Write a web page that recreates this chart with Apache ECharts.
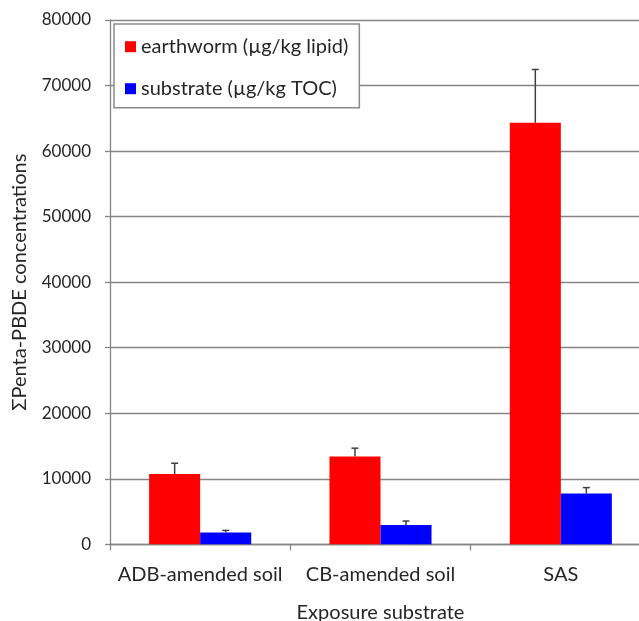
<!DOCTYPE html>
<html>
<head>
<meta charset="utf-8">
<script src="https://cdn.jsdelivr.net/npm/echarts@6/dist/echarts.min.js"></script>
<style>
  html, body { margin: 0; padding: 0; background: #fff; }
  #chart { width: 639px; height: 621px; }
</style>
</head>
<body>
<div id="chart"></div>
<script>
// Exposure substrates on the category axis
const categories = ['ADB-amended soil', 'CB-amended soil', 'SAS'];

// ΣPenta-PBDE means and their upper error (one standard deviation)
const earthworm = [10730, 13390, 64320];
const earthwormErr = [1640, 1280, 8130];
const substrate = [1810, 2940, 7750];
const substrateErr = [310, 610, 900];

// Value axis ticks
const yMin = 0;
const yMax = 80000;
const yStep = 10000;

const FONT = 'Lato';
const TEXT = '#262626';
const GRID_GRAY = '#858585';
const BAR_FRAC = 0.283; // bar width as a share of the category band

// Upper-only error bars, positioned over each bar of the pair
function errorSeries(name, means, errs, side) {
  return {
    type: 'custom',
    name: name + ' error',
    z: 5,
    silent: true,
    data: means.map((m, i) => [i, m, m + errs[i]]),
    renderItem: function (params, api) {
      const i = api.value(0);
      const band = api.size([1, 0])[0];
      const half = band * BAR_FRAC / 2;
      const base = api.coord([i, api.value(1)]);
      const top = api.coord([i, api.value(2)]);
      const x = base[0] + side * half;
      const cap = 3.5;
      const style = { stroke: '#404040', lineWidth: 1.5 };
      return {
        type: 'group',
        children: [
          { type: 'line', shape: { x1: x, y1: base[1], x2: x, y2: top[1] }, style: style },
          { type: 'line', shape: { x1: x - cap, y1: top[1], x2: x + cap, y2: top[1] }, style: style }
        ]
      };
    }
  };
}

const chart = echarts.init(document.getElementById('chart'), null, { renderer: 'canvas' });

chart.setOption({
  animation: false,
  backgroundColor: '#ffffff',
  textStyle: { fontFamily: FONT },
  grid: {
    left: 110, top: 20, width: 541, bottom: 76.7,
    containLabel: false,
    outerBoundsMode: 'none'
  },
  legend: {
    left: 114,
    top: 24,
    orient: 'vertical',
    data: ['earthworm (µg/kg lipid)', 'substrate (µg/kg TOC)'],
    icon: 'rect',
    itemWidth: 11,
    itemHeight: 11,
    itemGap: 22,
    padding: [12.7, 11, 9, 11],
    backgroundColor: '#ffffff',
    borderColor: '#8a8a8a',
    borderWidth: 1.5,
    textStyle: { fontFamily: FONT, fontSize: 20, color: TEXT }
  },
  xAxis: {
    type: 'category',
    data: categories,
    name: 'Exposure substrate',
    nameLocation: 'middle',
    nameGap: 58,
    nameTextStyle: { fontFamily: FONT, fontSize: 20, color: TEXT },
    axisLine: { lineStyle: { color: GRID_GRAY, width: 1.3 } },
    axisTick: { show: true, length: 6, lineStyle: { color: GRID_GRAY, width: 1.3 } },
    axisLabel: { margin: 20, fontFamily: FONT, fontSize: 20, color: TEXT, interval: 0 }
  },
  yAxis: {
    type: 'value',
    min: yMin,
    max: yMax,
    interval: yStep,
    name: 'ΣPenta-PBDE concentrations',
    nameLocation: 'middle',
    nameGap: 80,
    nameTextStyle: { fontFamily: FONT, fontSize: 20, color: TEXT },
    axisLine: { show: true, lineStyle: { color: GRID_GRAY, width: 1.3 } },
    axisTick: { show: true, length: 5, lineStyle: { color: GRID_GRAY, width: 1.3 } },
    axisLabel: {
      margin: 19, fontFamily: FONT, fontSize: 17, color: TEXT,
      formatter: v => String(v)
    },
    splitLine: { show: true, lineStyle: { color: GRID_GRAY, width: 1.3 } }
  },
  series: [
    {
      type: 'bar',
      name: 'earthworm (µg/kg lipid)',
      data: earthworm,
      barWidth: (BAR_FRAC * 100) + '%',
      barGap: '0%',
      itemStyle: { color: '#ff0000' }
    },
    {
      type: 'bar',
      name: 'substrate (µg/kg TOC)',
      data: substrate,
      barWidth: (BAR_FRAC * 100) + '%',
      barGap: '0%',
      itemStyle: { color: '#0000ff' }
    },
    errorSeries('earthworm', earthworm, earthwormErr, -1),
    errorSeries('substrate', substrate, substrateErr, 1)
  ]
});
</script>
</body>
</html>
